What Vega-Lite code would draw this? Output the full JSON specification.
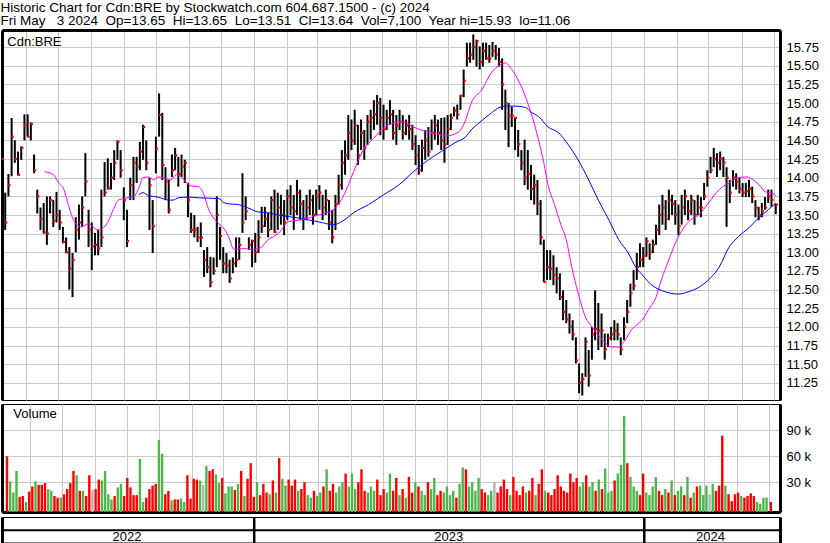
{
"$schema":"https://vega.github.io/schema/vega-lite/v6.json",
"background":"white",
"padding":{"left":0,"top":0,"right":0,"bottom":0},
"title":{"text":["Historic Chart for Cdn:BRE by Stockwatch.com 604.687.1500 - (c) 2024","Fri May\u00a0\u00a0 3 2024\u00a0 Op=13.65\u00a0 Hi=13.65\u00a0 Lo=13.51\u00a0 Cl=13.64\u00a0 Vol=7,100\u00a0 Year hi=15.93\u00a0 lo=11.06"],"anchor":"start","frame":"bounds","fontSize":13.5,"fontWeight":"normal","color":"black","font":"Liberation Sans","lineHeight":13.6,"offset":1.5},
"config":{"font":"Liberation Sans","view":{"stroke":"black","strokeWidth":1},"axis":{"ticks":false,"labelFont":"Liberation Sans","labelFontSize":13,"labelColor":"black","gridColor":"#c8c8c8","gridWidth":1,"domainColor":"black"},"text":{"color":"black","font":"Liberation Sans","fontSize":13}},
"spacing":2,
"datasets":{
"px":[
{"t":"2022-05-10","h":14.3,"l":13.75,"c":14.25,"v":60000,"d":"d"},
{"t":"2022-05-13","h":13.8,"l":13.3,"c":13.4,"v":31000,"d":"u"},
{"t":"2022-05-16","h":14.05,"l":13.75,"c":13.9,"v":18000,"d":"u"},
{"t":"2022-05-19","h":14.8,"l":14.02,"c":14.55,"v":43000,"d":"u"},
{"t":"2022-05-22","h":14.5,"l":14.2,"c":14.25,"v":13000,"d":"d"},
{"t":"2022-05-25","h":14.35,"l":14.03,"c":14.04,"v":14000,"d":"d"},
{"t":"2022-05-28","h":14.42,"l":14.24,"c":14.4,"v":7000,"d":"u"},
{"t":"2022-05-31","h":14.85,"l":14.5,"c":14.7,"v":19000,"d":"d"},
{"t":"2022-06-03","h":14.85,"l":14.55,"c":14.55,"v":25000,"d":"d"},
{"t":"2022-06-06","h":14.74,"l":14.5,"c":14.72,"v":31000,"d":"u"},
{"t":"2022-06-09","h":14.31,"l":14.06,"c":14.1,"v":27000,"d":"d"},
{"t":"2022-06-12","h":13.84,"l":13.52,"c":13.75,"v":27000,"d":"d"},
{"t":"2022-06-15","h":13.6,"l":13.3,"c":13.45,"v":29000,"d":"d"},
{"t":"2022-06-18","h":13.66,"l":13.25,"c":13.27,"v":22000,"d":"u"},
{"t":"2022-06-21","h":13.75,"l":13.1,"c":13.25,"v":20000,"d":"u"},
{"t":"2022-06-24","h":13.75,"l":13.52,"c":13.7,"v":14000,"d":"d"},
{"t":"2022-06-27","h":13.7,"l":13.34,"c":13.42,"v":12000,"d":"d"},
{"t":"2022-06-30","h":13.81,"l":13.4,"c":13.5,"v":12000,"d":"u"},
{"t":"2022-07-03","h":13.57,"l":13.3,"c":13.4,"v":16000,"d":"d"},
{"t":"2022-07-06","h":13.34,"l":13.12,"c":13.14,"v":22000,"d":"d"},
{"t":"2022-07-09","h":13.2,"l":12.99,"c":13.0,"v":29000,"d":"d"},
{"t":"2022-07-12","h":13.07,"l":12.5,"c":12.78,"v":43000,"d":"d"},
{"t":"2022-07-15","h":12.99,"l":12.4,"c":12.9,"v":38000,"d":"u"},
{"t":"2022-07-18","h":13.47,"l":13.0,"c":13.3,"v":20000,"d":"d"},
{"t":"2022-07-21","h":13.64,"l":13.17,"c":13.4,"v":20000,"d":"u"},
{"t":"2022-07-24","h":13.75,"l":13.34,"c":13.6,"v":14000,"d":"d"},
{"t":"2022-07-27","h":14.33,"l":13.75,"c":13.95,"v":38000,"d":"d"},
{"t":"2022-07-30","h":13.57,"l":13.07,"c":13.3,"v":21000,"d":"n"},
{"t":"2022-08-02","h":13.4,"l":12.76,"c":13.08,"v":22000,"d":"d"},
{"t":"2022-08-05","h":13.26,"l":12.96,"c":13.1,"v":33000,"d":"d"},
{"t":"2022-08-08","h":13.3,"l":12.96,"c":13.05,"v":32000,"d":"u"},
{"t":"2022-08-11","h":13.84,"l":13.07,"c":13.2,"v":43000,"d":"u"},
{"t":"2022-08-14","h":14.21,"l":13.75,"c":13.8,"v":16000,"d":"u"},
{"t":"2022-08-17","h":14.26,"l":13.84,"c":13.86,"v":10000,"d":"u"},
{"t":"2022-08-20","h":14.2,"l":13.84,"c":14.0,"v":14000,"d":"d"},
{"t":"2022-08-23","h":14.37,"l":13.97,"c":14.2,"v":24000,"d":"u"},
{"t":"2022-08-26","h":14.5,"l":14.24,"c":14.48,"v":28000,"d":"u"},
{"t":"2022-08-29","h":14.37,"l":14.0,"c":14.1,"v":14000,"d":"d"},
{"t":"2022-09-01","h":13.87,"l":13.43,"c":13.7,"v":35000,"d":"d"},
{"t":"2022-09-04","h":13.57,"l":13.07,"c":13.15,"v":24000,"d":"d"},
{"t":"2022-09-07","h":14.0,"l":13.7,"c":13.9,"v":15000,"d":"d"},
{"t":"2022-09-10","h":14.28,"l":13.7,"c":14.2,"v":15000,"d":"d"},
{"t":"2022-09-13","h":14.28,"l":13.93,"c":14.15,"v":57000,"d":"u"},
{"t":"2022-09-16","h":14.48,"l":14.1,"c":14.35,"v":7000,"d":"u"},
{"t":"2022-09-19","h":14.71,"l":14.24,"c":14.68,"v":12000,"d":"d"},
{"t":"2022-09-22","h":14.5,"l":14.1,"c":14.2,"v":22000,"d":"d"},
{"t":"2022-09-25","h":14.0,"l":13.3,"c":13.9,"v":26000,"d":"d"},
{"t":"2022-09-28","h":13.7,"l":12.99,"c":13.35,"v":28000,"d":"d"},
{"t":"2022-10-01","h":14.55,"l":14.06,"c":14.39,"v":79000,"d":"u"},
{"t":"2022-10-04","h":15.13,"l":14.55,"c":14.84,"v":63000,"d":"u"},
{"t":"2022-10-07","h":14.87,"l":13.97,"c":14.17,"v":16000,"d":"d"},
{"t":"2022-10-10","h":14.14,"l":13.7,"c":13.95,"v":20000,"d":"d"},
{"t":"2022-10-13","h":13.97,"l":13.52,"c":13.57,"v":9000,"d":"u"},
{"t":"2022-10-16","h":14.31,"l":14.01,"c":14.1,"v":10000,"d":"d"},
{"t":"2022-10-19","h":14.4,"l":14.1,"c":14.3,"v":10000,"d":"d"},
{"t":"2022-10-22","h":14.28,"l":13.88,"c":14.05,"v":11000,"d":"u"},
{"t":"2022-10-25","h":14.31,"l":14.01,"c":14.15,"v":7000,"d":"u"},
{"t":"2022-10-28","h":14.24,"l":13.93,"c":14.2,"v":38000,"d":"d"},
{"t":"2022-10-31","h":13.93,"l":13.47,"c":13.7,"v":11000,"d":"d"},
{"t":"2022-11-03","h":13.53,"l":13.26,"c":13.3,"v":34000,"d":"d"},
{"t":"2022-11-06","h":13.5,"l":13.2,"c":13.3,"v":33000,"d":"d"},
{"t":"2022-11-09","h":13.34,"l":13.14,"c":13.2,"v":32000,"d":"u"},
{"t":"2022-11-12","h":13.4,"l":13.07,"c":13.2,"v":27000,"d":"n"},
{"t":"2022-11-15","h":13.03,"l":12.67,"c":12.9,"v":49000,"d":"u"},
{"t":"2022-11-18","h":13.07,"l":12.72,"c":12.8,"v":43000,"d":"d"},
{"t":"2022-11-21","h":12.94,"l":12.53,"c":12.6,"v":45000,"d":"d"},
{"t":"2022-11-24","h":12.93,"l":12.7,"c":12.75,"v":39000,"d":"u"},
{"t":"2022-11-27","h":13.75,"l":12.8,"c":13.5,"v":29000,"d":"u"},
{"t":"2022-11-30","h":13.34,"l":12.9,"c":13.22,"v":35000,"d":"d"},
{"t":"2022-12-03","h":13.07,"l":12.72,"c":12.85,"v":17000,"d":"u"},
{"t":"2022-12-06","h":12.99,"l":12.72,"c":12.82,"v":25000,"d":"u"},
{"t":"2022-12-09","h":12.9,"l":12.59,"c":12.65,"v":25000,"d":"u"},
{"t":"2022-12-12","h":12.93,"l":12.72,"c":12.85,"v":21000,"d":"d"},
{"t":"2022-12-15","h":13.2,"l":12.8,"c":12.9,"v":28000,"d":"u"},
{"t":"2022-12-18","h":13.2,"l":12.9,"c":13.1,"v":43000,"d":"d"},
{"t":"2022-12-21","h":14.06,"l":13.26,"c":13.4,"v":14000,"d":"u"},
{"t":"2022-12-24","h":13.75,"l":13.43,"c":13.55,"v":34000,"d":"d"},
{"t":"2022-12-27","h":13.2,"l":13.03,"c":13.1,"v":52000,"d":"d"},
{"t":"2022-12-30","h":13.17,"l":12.8,"c":13.15,"v":13000,"d":"d"},
{"t":"2023-01-02","h":13.26,"l":12.86,"c":13.0,"v":30000,"d":"u"},
{"t":"2023-01-05","h":13.43,"l":12.99,"c":13.2,"v":15000,"d":"d"},
{"t":"2023-01-08","h":13.61,"l":13.26,"c":13.35,"v":28000,"d":"d"},
{"t":"2023-01-11","h":13.61,"l":13.34,"c":13.45,"v":18000,"d":"d"},
{"t":"2023-01-14","h":13.53,"l":13.2,"c":13.3,"v":16000,"d":"u"},
{"t":"2023-01-17","h":13.75,"l":13.3,"c":13.7,"v":32000,"d":"d"},
{"t":"2023-01-20","h":13.84,"l":13.26,"c":13.27,"v":18000,"d":"u"},
{"t":"2023-01-23","h":13.8,"l":13.3,"c":13.6,"v":58000,"d":"d"},
{"t":"2023-01-26","h":13.77,"l":13.37,"c":13.5,"v":34000,"d":"u"},
{"t":"2023-01-29","h":13.7,"l":13.23,"c":13.4,"v":26000,"d":"u"},
{"t":"2023-02-01","h":13.84,"l":13.43,"c":13.75,"v":33000,"d":"d"},
{"t":"2023-02-04","h":13.9,"l":13.5,"c":13.6,"v":26000,"d":"d"},
{"t":"2023-02-07","h":13.77,"l":13.3,"c":13.55,"v":33000,"d":"d"},
{"t":"2023-02-10","h":13.97,"l":13.5,"c":13.8,"v":20000,"d":"u"},
{"t":"2023-02-13","h":13.84,"l":13.43,"c":13.65,"v":22000,"d":"d"},
{"t":"2023-02-16","h":13.7,"l":13.3,"c":13.45,"v":30000,"d":"d"},
{"t":"2023-02-19","h":13.77,"l":13.43,"c":13.6,"v":15000,"d":"u"},
{"t":"2023-02-22","h":13.84,"l":13.5,"c":13.7,"v":12000,"d":"u"},
{"t":"2023-02-25","h":13.77,"l":13.37,"c":13.5,"v":20000,"d":"d"},
{"t":"2023-02-28","h":13.84,"l":13.5,"c":13.75,"v":14000,"d":"u"},
{"t":"2023-03-03","h":13.9,"l":13.57,"c":13.8,"v":18000,"d":"u"},
{"t":"2023-03-06","h":13.77,"l":13.43,"c":13.6,"v":25000,"d":"d"},
{"t":"2023-03-09","h":13.84,"l":13.5,"c":13.7,"v":45000,"d":"u"},
{"t":"2023-03-12","h":13.7,"l":13.3,"c":13.4,"v":20000,"d":"d"},
{"t":"2023-03-15","h":13.57,"l":13.12,"c":13.2,"v":28000,"d":"d"},
{"t":"2023-03-18","h":13.77,"l":13.3,"c":13.65,"v":18000,"d":"u"},
{"t":"2023-03-21","h":14.04,"l":13.64,"c":13.9,"v":25000,"d":"u"},
{"t":"2023-03-24","h":14.37,"l":13.84,"c":14.2,"v":30000,"d":"u"},
{"t":"2023-03-27","h":14.5,"l":14.04,"c":14.3,"v":40000,"d":"d"},
{"t":"2023-03-30","h":14.84,"l":14.24,"c":14.6,"v":25000,"d":"u"},
{"t":"2023-04-02","h":14.78,"l":14.37,"c":14.5,"v":40000,"d":"u"},
{"t":"2023-04-05","h":14.91,"l":14.44,"c":14.7,"v":22000,"d":"u"},
{"t":"2023-04-08","h":14.71,"l":14.17,"c":14.3,"v":30000,"d":"d"},
{"t":"2023-04-11","h":14.78,"l":14.37,"c":14.6,"v":45000,"d":"d"},
{"t":"2023-04-14","h":14.64,"l":14.24,"c":14.4,"v":20000,"d":"d"},
{"t":"2023-04-17","h":14.84,"l":14.44,"c":14.75,"v":18000,"d":"u"},
{"t":"2023-04-20","h":14.91,"l":14.51,"c":14.8,"v":25000,"d":"u"},
{"t":"2023-04-23","h":15.04,"l":14.64,"c":14.85,"v":20000,"d":"u"},
{"t":"2023-04-26","h":15.11,"l":14.71,"c":15.0,"v":33000,"d":"d"},
{"t":"2023-04-29","h":15.07,"l":14.57,"c":14.8,"v":15000,"d":"d"},
{"t":"2023-05-02","h":14.98,"l":14.51,"c":14.65,"v":22000,"d":"d"},
{"t":"2023-05-05","h":14.91,"l":14.64,"c":14.8,"v":18000,"d":"u"},
{"t":"2023-05-08","h":15.04,"l":14.71,"c":14.85,"v":40000,"d":"u"},
{"t":"2023-05-11","h":14.91,"l":14.51,"c":14.6,"v":20000,"d":"d"},
{"t":"2023-05-14","h":14.84,"l":14.44,"c":14.7,"v":35000,"d":"d"},
{"t":"2023-05-17","h":14.91,"l":14.64,"c":14.75,"v":15000,"d":"u"},
{"t":"2023-05-20","h":14.84,"l":14.51,"c":14.6,"v":22000,"d":"d"},
{"t":"2023-05-23","h":14.78,"l":14.57,"c":14.7,"v":12000,"d":"u"},
{"t":"2023-05-26","h":14.84,"l":14.51,"c":14.65,"v":36000,"d":"d"},
{"t":"2023-05-29","h":14.71,"l":14.37,"c":14.45,"v":18000,"d":"d"},
{"t":"2023-06-01","h":14.57,"l":14.17,"c":14.3,"v":30000,"d":"u"},
{"t":"2023-06-04","h":14.44,"l":14.04,"c":14.1,"v":25000,"d":"d"},
{"t":"2023-06-07","h":14.51,"l":14.08,"c":14.4,"v":20000,"d":"u"},
{"t":"2023-06-10","h":14.64,"l":14.24,"c":14.5,"v":15000,"d":"u"},
{"t":"2023-06-13","h":14.68,"l":14.28,"c":14.35,"v":30000,"d":"d"},
{"t":"2023-06-16","h":14.78,"l":14.37,"c":14.6,"v":22000,"d":"u"},
{"t":"2023-06-19","h":14.84,"l":14.51,"c":14.7,"v":35000,"d":"u"},
{"t":"2023-06-22","h":14.78,"l":14.44,"c":14.6,"v":15000,"d":"d"},
{"t":"2023-06-25","h":14.8,"l":14.37,"c":14.5,"v":20000,"d":"d"},
{"t":"2023-06-28","h":14.81,"l":14.2,"c":14.45,"v":18000,"d":"u"},
{"t":"2023-07-01","h":14.84,"l":14.44,"c":14.65,"v":25000,"d":"u"},
{"t":"2023-07-04","h":14.86,"l":14.64,"c":14.8,"v":15000,"d":"u"},
{"t":"2023-07-07","h":14.95,"l":14.82,"c":14.9,"v":20000,"d":"u"},
{"t":"2023-07-10","h":14.98,"l":14.78,"c":14.85,"v":12000,"d":"d"},
{"t":"2023-07-13","h":15.11,"l":14.91,"c":15.1,"v":28000,"d":"u"},
{"t":"2023-07-16","h":15.45,"l":15.08,"c":15.3,"v":47000,"d":"u"},
{"t":"2023-07-19","h":15.81,"l":15.49,"c":15.6,"v":45000,"d":"d"},
{"t":"2023-07-22","h":15.81,"l":15.54,"c":15.65,"v":25000,"d":"u"},
{"t":"2023-07-25","h":15.92,"l":15.58,"c":15.75,"v":30000,"d":"u"},
{"t":"2023-07-28","h":15.85,"l":15.49,"c":15.83,"v":20000,"d":"u"},
{"t":"2023-07-31","h":15.76,"l":15.45,"c":15.55,"v":35000,"d":"u"},
{"t":"2023-08-03","h":15.81,"l":15.49,"c":15.7,"v":22000,"d":"d"},
{"t":"2023-08-06","h":15.81,"l":15.58,"c":15.6,"v":18000,"d":"d"},
{"t":"2023-08-09","h":15.78,"l":15.54,"c":15.6,"v":15000,"d":"u"},
{"t":"2023-08-12","h":15.82,"l":15.62,"c":15.7,"v":20000,"d":"u"},
{"t":"2023-08-15","h":15.78,"l":15.58,"c":15.65,"v":30000,"d":"n"},
{"t":"2023-08-18","h":15.74,"l":15.49,"c":15.55,"v":18000,"d":"d"},
{"t":"2023-08-21","h":15.6,"l":14.91,"c":15.25,"v":25000,"d":"d"},
{"t":"2023-08-24","h":15.18,"l":14.64,"c":15.0,"v":33000,"d":"d"},
{"t":"2023-08-27","h":15.0,"l":14.41,"c":14.83,"v":22000,"d":"d"},
{"t":"2023-08-30","h":14.95,"l":14.68,"c":14.83,"v":15000,"d":"u"},
{"t":"2023-09-02","h":14.81,"l":14.37,"c":14.8,"v":36000,"d":"d"},
{"t":"2023-09-05","h":14.64,"l":14.28,"c":14.45,"v":20000,"d":"d"},
{"t":"2023-09-08","h":14.37,"l":14.1,"c":14.2,"v":15000,"d":"d"},
{"t":"2023-09-11","h":14.51,"l":13.9,"c":14.0,"v":25000,"d":"d"},
{"t":"2023-09-14","h":14.37,"l":13.84,"c":14.05,"v":18000,"d":"u"},
{"t":"2023-09-17","h":14.17,"l":13.7,"c":13.85,"v":20000,"d":"d"},
{"t":"2023-09-20","h":14.04,"l":13.64,"c":13.9,"v":35000,"d":"d"},
{"t":"2023-09-23","h":13.97,"l":13.5,"c":13.65,"v":15000,"d":"u"},
{"t":"2023-09-26","h":13.7,"l":13.1,"c":13.2,"v":28000,"d":"d"},
{"t":"2023-09-29","h":13.17,"l":12.6,"c":12.6,"v":45000,"d":"d"},
{"t":"2023-10-02","h":13.03,"l":12.63,"c":12.8,"v":20000,"d":"u"},
{"t":"2023-10-05","h":13.03,"l":12.63,"c":12.78,"v":18000,"d":"d"},
{"t":"2023-10-08","h":12.96,"l":12.56,"c":12.7,"v":15000,"d":"d"},
{"t":"2023-10-11","h":12.8,"l":12.45,"c":12.65,"v":22000,"d":"d"},
{"t":"2023-10-14","h":12.72,"l":12.36,"c":12.4,"v":38000,"d":"d"},
{"t":"2023-10-17","h":12.49,"l":12.09,"c":12.2,"v":25000,"d":"d"},
{"t":"2023-10-20","h":12.36,"l":12.05,"c":12.1,"v":20000,"d":"d"},
{"t":"2023-10-23","h":12.18,"l":11.91,"c":12.0,"v":18000,"d":"d"},
{"t":"2023-10-26","h":12.09,"l":11.82,"c":11.9,"v":40000,"d":"d"},
{"t":"2023-10-29","h":11.86,"l":11.51,"c":11.55,"v":30000,"d":"d"},
{"t":"2023-11-01","h":11.51,"l":11.11,"c":11.25,"v":35000,"d":"d"},
{"t":"2023-11-04","h":11.38,"l":11.08,"c":11.3,"v":25000,"d":"u"},
{"t":"2023-11-07","h":11.86,"l":11.33,"c":11.8,"v":30000,"d":"u"},
{"t":"2023-11-10","h":11.69,"l":11.2,"c":11.35,"v":38000,"d":"d"},
{"t":"2023-11-13","h":12.0,"l":11.56,"c":11.9,"v":25000,"d":"u"},
{"t":"2023-11-16","h":12.49,"l":11.82,"c":11.97,"v":30000,"d":"u"},
{"t":"2023-11-19","h":12.32,"l":11.69,"c":11.95,"v":20000,"d":"d"},
{"t":"2023-11-22","h":12.18,"l":11.73,"c":11.95,"v":33000,"d":"u"},
{"t":"2023-11-25","h":11.91,"l":11.56,"c":11.7,"v":22000,"d":"d"},
{"t":"2023-11-28","h":11.91,"l":11.73,"c":11.85,"v":46000,"d":"u"},
{"t":"2023-12-01","h":12.0,"l":11.82,"c":11.9,"v":18000,"d":"u"},
{"t":"2023-12-04","h":12.09,"l":11.82,"c":11.95,"v":20000,"d":"u"},
{"t":"2023-12-07","h":12.05,"l":11.82,"c":11.9,"v":32000,"d":"d"},
{"t":"2023-12-10","h":11.86,"l":11.62,"c":11.7,"v":40000,"d":"u"},
{"t":"2023-12-13","h":12.13,"l":11.82,"c":12.0,"v":50000,"d":"u"},
{"t":"2023-12-16","h":12.36,"l":12.05,"c":12.2,"v":107000,"d":"u"},
{"t":"2023-12-19","h":12.58,"l":12.27,"c":12.45,"v":52000,"d":"d"},
{"t":"2023-12-22","h":12.76,"l":12.49,"c":12.55,"v":36000,"d":"u"},
{"t":"2023-12-25","h":12.99,"l":12.63,"c":12.8,"v":25000,"d":"u"},
{"t":"2023-12-28","h":13.12,"l":12.8,"c":12.9,"v":20000,"d":"u"},
{"t":"2023-12-31","h":13.07,"l":12.8,"c":12.95,"v":15000,"d":"d"},
{"t":"2024-01-03","h":13.2,"l":12.94,"c":13.15,"v":40000,"d":"d"},
{"t":"2024-01-06","h":13.12,"l":12.9,"c":13.0,"v":18000,"d":"u"},
{"t":"2024-01-09","h":13.17,"l":12.99,"c":13.1,"v":15000,"d":"u"},
{"t":"2024-01-12","h":13.37,"l":13.1,"c":13.3,"v":25000,"d":"u"},
{"t":"2024-01-15","h":13.64,"l":13.23,"c":13.5,"v":36000,"d":"u"},
{"t":"2024-01-18","h":13.77,"l":13.37,"c":13.6,"v":20000,"d":"d"},
{"t":"2024-01-21","h":13.7,"l":13.3,"c":13.45,"v":15000,"d":"d"},
{"t":"2024-01-24","h":13.84,"l":13.43,"c":13.7,"v":22000,"d":"u"},
{"t":"2024-01-27","h":13.77,"l":13.5,"c":13.65,"v":18000,"d":"d"},
{"t":"2024-01-30","h":13.7,"l":13.37,"c":13.5,"v":32000,"d":"u"},
{"t":"2024-02-02","h":13.64,"l":13.23,"c":13.35,"v":15000,"d":"d"},
{"t":"2024-02-05","h":13.77,"l":13.37,"c":13.6,"v":20000,"d":"u"},
{"t":"2024-02-08","h":13.84,"l":13.5,"c":13.75,"v":25000,"d":"u"},
{"t":"2024-02-11","h":13.7,"l":13.43,"c":13.55,"v":15000,"d":"d"},
{"t":"2024-02-14","h":13.77,"l":13.5,"c":13.7,"v":36000,"d":"u"},
{"t":"2024-02-17","h":13.7,"l":13.37,"c":13.5,"v":12000,"d":"d"},
{"t":"2024-02-20","h":13.77,"l":13.5,"c":13.6,"v":18000,"d":"u"},
{"t":"2024-02-23","h":13.74,"l":13.47,"c":13.6,"v":25000,"d":"d"},
{"t":"2024-02-26","h":13.93,"l":13.7,"c":13.75,"v":26000,"d":"u"},
{"t":"2024-02-29","h":14.1,"l":13.88,"c":14.0,"v":15000,"d":"u"},
{"t":"2024-03-03","h":14.28,"l":14.06,"c":14.1,"v":26000,"d":"u"},
{"t":"2024-03-06","h":14.4,"l":14.14,"c":14.25,"v":16000,"d":"n"},
{"t":"2024-03-09","h":14.33,"l":14.01,"c":14.2,"v":28000,"d":"u"},
{"t":"2024-03-12","h":14.35,"l":14.1,"c":14.25,"v":20000,"d":"d"},
{"t":"2024-03-15","h":14.28,"l":14.01,"c":14.2,"v":26000,"d":"d"},
{"t":"2024-03-18","h":14.14,"l":13.34,"c":14.0,"v":84000,"d":"d"},
{"t":"2024-03-21","h":13.97,"l":13.66,"c":13.8,"v":26000,"d":"u"},
{"t":"2024-03-24","h":14.1,"l":13.88,"c":14.0,"v":16000,"d":"d"},
{"t":"2024-03-27","h":14.06,"l":13.84,"c":13.95,"v":8000,"d":"d"},
{"t":"2024-03-30","h":14.01,"l":13.79,"c":13.85,"v":16000,"d":"d"},
{"t":"2024-04-02","h":13.93,"l":13.74,"c":13.8,"v":18000,"d":"d"},
{"t":"2024-04-05","h":13.93,"l":13.74,"c":13.82,"v":14000,"d":"u"},
{"t":"2024-04-08","h":13.97,"l":13.74,"c":13.85,"v":12000,"d":"d"},
{"t":"2024-04-11","h":13.88,"l":13.66,"c":13.75,"v":14000,"d":"d"},
{"t":"2024-04-14","h":13.7,"l":13.47,"c":13.6,"v":17000,"d":"d"},
{"t":"2024-04-17","h":13.61,"l":13.43,"c":13.5,"v":14000,"d":"d"},
{"t":"2024-04-20","h":13.66,"l":13.47,"c":13.55,"v":7000,"d":"u"},
{"t":"2024-04-23","h":13.74,"l":13.57,"c":13.6,"v":5000,"d":"u"},
{"t":"2024-04-26","h":13.84,"l":13.66,"c":13.75,"v":12000,"d":"u"},
{"t":"2024-04-29","h":13.84,"l":13.61,"c":13.7,"v":12000,"d":"u"},
{"t":"2024-05-03","h":13.65,"l":13.51,"c":13.64,"v":7100,"d":"d"}
],
"ma1":[
{"t":"2022-06-19","m":14.08},{"t":"2022-06-27","m":14.04},{"t":"2022-07-02","m":13.93},{"t":"2022-07-07","m":13.84},{"t":"2022-07-11","m":13.64},{"t":"2022-07-16","m":13.43},{"t":"2022-07-23","m":13.34},{"t":"2022-07-30","m":13.38},{"t":"2022-08-04","m":13.33},{"t":"2022-08-08","m":13.3},{"t":"2022-08-13","m":13.33},{"t":"2022-08-18","m":13.43},{"t":"2022-08-22","m":13.57},{"t":"2022-08-27","m":13.7},{"t":"2022-09-05","m":13.73},{"t":"2022-09-10","m":13.74},{"t":"2022-09-15","m":13.86},{"t":"2022-09-19","m":14.0},{"t":"2022-09-24","m":14.01},{"t":"2022-09-29","m":13.97},{"t":"2022-10-03","m":14.01},{"t":"2022-10-08","m":14.0},{"t":"2022-10-15","m":13.97},{"t":"2022-10-20","m":14.04},{"t":"2022-10-25","m":14.01},{"t":"2022-10-30","m":13.93},{"t":"2022-11-03","m":13.89},{"t":"2022-11-10","m":13.88},{"t":"2022-11-15","m":13.77},{"t":"2022-11-19","m":13.59},{"t":"2022-11-24","m":13.46},{"t":"2022-11-29","m":13.38},{"t":"2022-12-03","m":13.33},{"t":"2022-12-08","m":13.21},{"t":"2022-12-13","m":13.04},{"t":"2022-12-22","m":13.05},{"t":"2022-12-31","m":13.04},{"t":"2023-01-05","m":13.05},{"t":"2023-01-10","m":13.1},{"t":"2023-01-14","m":13.17},{"t":"2023-01-19","m":13.21},{"t":"2023-01-24","m":13.26},{"t":"2023-02-02","m":13.41},{"t":"2023-02-11","m":13.43},{"t":"2023-02-21","m":13.46},{"t":"2023-03-02","m":13.5},{"t":"2023-03-16","m":13.57},{"t":"2023-03-26","m":13.77},{"t":"2023-04-04","m":14.08},{"t":"2023-04-13","m":14.37},{"t":"2023-04-23","m":14.53},{"t":"2023-05-02","m":14.67},{"t":"2023-05-11","m":14.73},{"t":"2023-05-21","m":14.75},{"t":"2023-05-30","m":14.68},{"t":"2023-06-08","m":14.63},{"t":"2023-06-18","m":14.6},{"t":"2023-06-29","m":14.56},{"t":"2023-07-11","m":14.61},{"t":"2023-07-18","m":14.78},{"t":"2023-07-23","m":15.0},{"t":"2023-08-02","m":15.18},{"t":"2023-08-11","m":15.41},{"t":"2023-08-19","m":15.51},{"t":"2023-08-24","m":15.54},{"t":"2023-08-30","m":15.45},{"t":"2023-09-05","m":15.31},{"t":"2023-09-12","m":15.08},{"t":"2023-09-17","m":14.87},{"t":"2023-09-24","m":14.51},{"t":"2023-09-29","m":14.2},{"t":"2023-10-03","m":13.9},{"t":"2023-10-09","m":13.64},{"t":"2023-10-15","m":13.37},{"t":"2023-10-20","m":13.17},{"t":"2023-10-25","m":12.81},{"t":"2023-10-31","m":12.46},{"t":"2023-11-07","m":12.13},{"t":"2023-11-13","m":12.0},{"t":"2023-11-19","m":11.89},{"t":"2023-11-26","m":11.78},{"t":"2023-12-01","m":11.73},{"t":"2023-12-08","m":11.73},{"t":"2023-12-14","m":11.82},{"t":"2023-12-20","m":11.96},{"t":"2023-12-25","m":12.03},{"t":"2023-12-30","m":12.09},{"t":"2024-01-05","m":12.23},{"t":"2024-01-12","m":12.4},{"t":"2024-01-17","m":12.63},{"t":"2024-01-24","m":12.9},{"t":"2024-01-30","m":13.12},{"t":"2024-02-07","m":13.33},{"t":"2024-02-13","m":13.43},{"t":"2024-02-21","m":13.5},{"t":"2024-03-01","m":13.66},{"t":"2024-03-11","m":13.84},{"t":"2024-03-20","m":13.93},{"t":"2024-03-29","m":14.0},{"t":"2024-04-06","m":14.01},{"t":"2024-04-12","m":13.97},{"t":"2024-04-19","m":13.88},{"t":"2024-04-23","m":13.81},{"t":"2024-04-28","m":13.8},{"t":"2024-05-03","m":13.76}
],
"ma2":[
{"t":"2022-09-15","m":13.77},{"t":"2022-09-19","m":13.8},{"t":"2022-09-24","m":13.76},{"t":"2022-10-03","m":13.74},{"t":"2022-10-13","m":13.7},{"t":"2022-10-17","m":13.7},{"t":"2022-10-22","m":13.73},{"t":"2022-11-01","m":13.74},{"t":"2022-11-10","m":13.73},{"t":"2022-11-29","m":13.72},{"t":"2022-12-03","m":13.67},{"t":"2022-12-08","m":13.65},{"t":"2022-12-17","m":13.64},{"t":"2022-12-27","m":13.59},{"t":"2023-01-05","m":13.54},{"t":"2023-01-14","m":13.53},{"t":"2023-01-24","m":13.5},{"t":"2023-02-11","m":13.46},{"t":"2023-03-02","m":13.41},{"t":"2023-03-16","m":13.37},{"t":"2023-03-26","m":13.43},{"t":"2023-04-04","m":13.53},{"t":"2023-04-18","m":13.64},{"t":"2023-05-02","m":13.77},{"t":"2023-05-16","m":13.9},{"t":"2023-05-30","m":14.08},{"t":"2023-06-13","m":14.24},{"t":"2023-06-25","m":14.35},{"t":"2023-07-08","m":14.47},{"t":"2023-07-18","m":14.55},{"t":"2023-07-23","m":14.64},{"t":"2023-07-30","m":14.73},{"t":"2023-08-05","m":14.8},{"t":"2023-08-11","m":14.87},{"t":"2023-08-18","m":14.94},{"t":"2023-08-24","m":14.96},{"t":"2023-09-03","m":14.96},{"t":"2023-09-12","m":14.94},{"t":"2023-09-17","m":14.88},{"t":"2023-09-24","m":14.82},{"t":"2023-10-03","m":14.68},{"t":"2023-10-13","m":14.6},{"t":"2023-10-22","m":14.44},{"t":"2023-10-31","m":14.24},{"t":"2023-11-10","m":13.97},{"t":"2023-11-19","m":13.7},{"t":"2023-11-29","m":13.43},{"t":"2023-12-08","m":13.17},{"t":"2023-12-17","m":12.99},{"t":"2023-12-24","m":12.8},{"t":"2023-12-30","m":12.7},{"t":"2024-01-08","m":12.56},{"t":"2024-01-17","m":12.49},{"t":"2024-02-02","m":12.44},{"t":"2024-02-11","m":12.47},{"t":"2024-02-21","m":12.53},{"t":"2024-03-01","m":12.63},{"t":"2024-03-11","m":12.8},{"t":"2024-03-20","m":13.06},{"t":"2024-03-29","m":13.21},{"t":"2024-04-08","m":13.33},{"t":"2024-04-17","m":13.46},{"t":"2024-04-26","m":13.57},{"t":"2024-05-03","m":13.66}
],
"sep":[{"t":"2023-01-01"},{"t":"2024-01-01"}],
"yr":[{"t":"2022-09-04","y":"2022"},{"t":"2023-07-02","y":"2023"},{"t":"2024-03-03","y":"2024"}]
},
"vconcat":[
{
"width":778,"height":370,
"layer":[
{"data":{"name":"px"},"mark":{"type":"rule","color":"black","strokeWidth":2},
 "encoding":{"x":{"field":"t","type":"temporal","scale":{"domain":[{"year":2022,"month":5,"date":10},{"year":2024,"month":5,"date":7}]},"axis":{"orient":"top","grid":true,"tickCount":{"interval":"month","step":1},"labels":false,"domain":true,"domainWidth":3,"title":null}},
  "y":{"field":"l","type":"quantitative","scale":{"domain":[11.02,15.98],"nice":false,"zero":false},"axis":{"orient":"right","values":[11.25,11.5,11.75,12,12.25,12.5,12.75,13,13.25,13.5,13.75,14,14.25,14.5,14.75,15,15.25,15.5,15.75],"format":".2f","grid":true,"domainWidth":3,"labelPadding":6,"title":null}},"y2":{"field":"h"}}},
{"data":{"name":"px"},"mark":{"type":"square","color":"#ff0000","size":5,"opacity":1,"xOffset":1},
 "encoding":{"x":{"field":"t","type":"temporal","scale":{"domain":[{"year":2022,"month":5,"date":10},{"year":2024,"month":5,"date":7}]},"axis":{"orient":"top","grid":true,"tickCount":{"interval":"month","step":1},"labels":false,"domain":true,"domainWidth":3,"title":null}},
  "y":{"field":"c","type":"quantitative","scale":{"domain":[11.02,15.98],"nice":false,"zero":false},"axis":null}}},
{"data":{"name":"ma1"},"mark":{"type":"line","color":"#ff00ff","strokeWidth":1,"interpolate":"monotone"},
 "encoding":{"x":{"field":"t","type":"temporal","scale":{"domain":[{"year":2022,"month":5,"date":10},{"year":2024,"month":5,"date":7}]},"axis":{"orient":"top","grid":true,"tickCount":{"interval":"month","step":1},"labels":false,"domain":true,"domainWidth":3,"title":null}},
  "y":{"field":"m","type":"quantitative","scale":{"domain":[11.02,15.98],"nice":false,"zero":false},"axis":null}}},
{"data":{"name":"ma2"},"mark":{"type":"line","color":"#0000ff","strokeWidth":1,"interpolate":"monotone"},
 "encoding":{"x":{"field":"t","type":"temporal","scale":{"domain":[{"year":2022,"month":5,"date":10},{"year":2024,"month":5,"date":7}]},"axis":{"orient":"top","grid":true,"tickCount":{"interval":"month","step":1},"labels":false,"domain":true,"domainWidth":3,"title":null}},
  "y":{"field":"m","type":"quantitative","scale":{"domain":[11.02,15.98],"nice":false,"zero":false},"axis":null}}},
{"data":{"values":[{}]},"mark":{"type":"text","align":"left","baseline":"alphabetic","fontSize":13,"color":"black"},
 "encoding":{"x":{"datum":{"year":2022,"month":5,"date":15},"type":"temporal","scale":{"domain":[{"year":2022,"month":5,"date":10},{"year":2024,"month":5,"date":7}]},"axis":{"orient":"top","grid":true,"tickCount":{"interval":"month","step":1},"labels":false,"domain":true,"domainWidth":3,"title":null}},
  "y":{"datum":15.77,"type":"quantitative","scale":{"domain":[11.02,15.98],"nice":false,"zero":false},"axis":{"orient":"left","labels":false,"grid":false,"domainWidth":3,"title":null}},"text":{"value":"Cdn:BRE"}}}
],
"resolve":{"scale":{"y":"independent"}}
},
{
"width":778,"height":108,
"layer":[
{"data":{"name":"px"},"mark":{"type":"bar","width":2.4},
 "encoding":{"x":{"field":"t","type":"temporal","scale":{"domain":[{"year":2022,"month":5,"date":10},{"year":2024,"month":5,"date":7}]},"axis":{"orient":"bottom","grid":true,"tickCount":{"interval":"month","step":1},"labels":false,"domain":true,"domainWidth":3,"title":null}},
  "y":{"field":"v","type":"quantitative","scale":{"domain":[-4600,120700],"nice":false,"zero":false},"axis":{"orient":"right","values":[30000,60000,90000],"labelExpr":"format(datum.value/1000,'d') + ' k'","grid":true,"domainWidth":3,"labelPadding":6,"title":null}},"y2":{"datum":-4600},"color":{"field":"d","type":"nominal","scale":{"domain":["u","d","n"],"range":["#4cb84c","#ff0000","#b4b4b4"]},"legend":null}}},
{"data":{"values":[{}]},"mark":{"type":"text","align":"left","baseline":"alphabetic","fontSize":13,"color":"black"},
 "encoding":{"x":{"datum":{"year":2022,"month":5,"date":16},"type":"temporal","scale":{"domain":[{"year":2022,"month":5,"date":10},{"year":2024,"month":5,"date":7}]},"axis":{"orient":"bottom","grid":true,"tickCount":{"interval":"month","step":1},"labels":false,"domain":true,"domainWidth":3,"title":null}},
  "y":{"datum":104000,"type":"quantitative","scale":{"domain":[-4600,120700],"nice":false,"zero":false},"axis":{"orient":"left","labels":false,"grid":false,"domainWidth":3,"title":null}},"text":{"value":"Volume"}}}
],
"resolve":{"scale":{"y":"independent"}}
},
{
"width":778,"height":26.5,
"layer":[
{"data":{"values":[{}]},"mark":{"type":"rule","color":"black","strokeWidth":2},
 "encoding":{"y":{"datum":1,"type":"quantitative","scale":{"domain":[0,2]},"axis":{"orient":"left","labels":false,"grid":false,"domainWidth":3,"title":null}}}},
{"data":{"name":"sep"},"mark":{"type":"rule","color":"black","strokeWidth":2.5},
 "encoding":{"x":{"field":"t","type":"temporal","scale":{"domain":[{"year":2022,"month":5,"date":10},{"year":2024,"month":5,"date":7}]},"axis":{"orient":"bottom","grid":false,"labels":false,"domain":true,"domainWidth":3,"title":null}}}},
{"data":{"name":"yr"},"mark":{"type":"text","align":"center","baseline":"middle","fontSize":13,"color":"black"},
 "encoding":{"x":{"field":"t","type":"temporal","scale":{"domain":[{"year":2022,"month":5,"date":10},{"year":2024,"month":5,"date":7}]},"axis":{"orient":"bottom","grid":false,"labels":false,"domain":true,"domainWidth":3,"title":null}},"y":{"datum":0.5,"type":"quantitative","scale":{"domain":[0,2]},"axis":{"orient":"right","labels":false,"grid":false,"domainWidth":3,"title":null}},"text":{"field":"y"}}}
],
"resolve":{"scale":{"y":"independent"}}
}
]
}
